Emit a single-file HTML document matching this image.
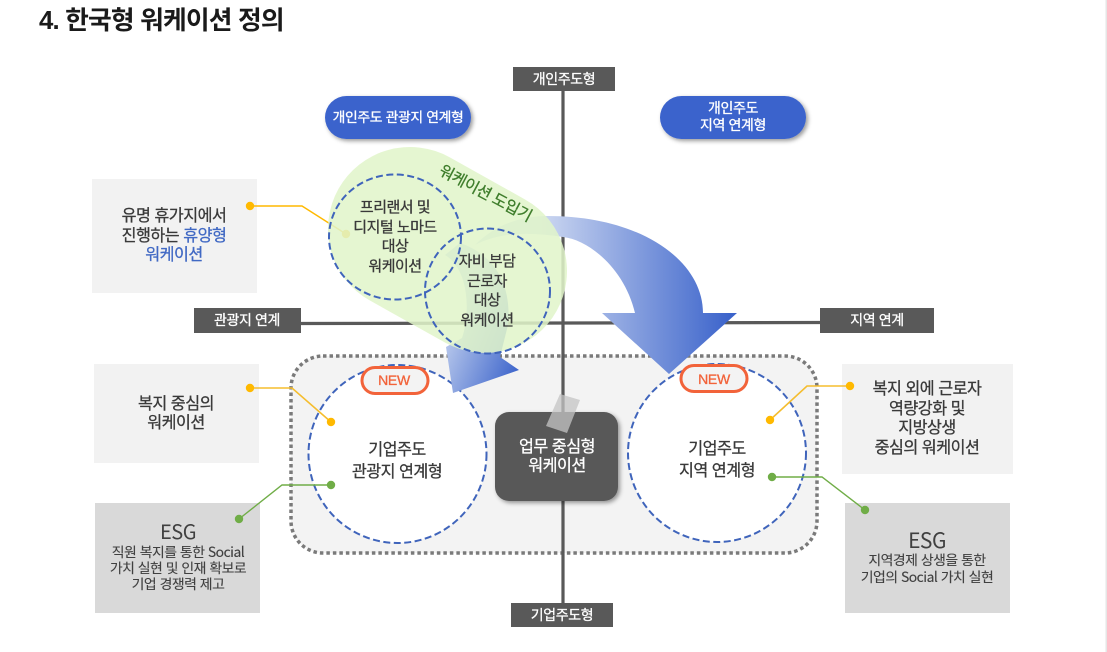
<!DOCTYPE html>
<html lang="ko"><head><meta charset="utf-8"><title>한국형 워케이션 정의</title>
<style>
html,body{margin:0;padding:0;background:#fff;width:1107px;height:652px;overflow:hidden}
svg{display:block}
text{font-family:"Liberation Sans","Noto Sans CJK KR",sans-serif;text-anchor:middle;fill:#3a3a3a;stroke:#3a3a3a;stroke-width:.3px;font-size:16.2px;font-weight:400;letter-spacing:-.5px}
.w{fill:#fff;stroke:#fff}
.s{font-size:14px;letter-spacing:-.4px}
.c{font-size:15px}
.b{fill:#4169c4;stroke:#4169c4}
.n{font-size:14px;fill:#f2633a;stroke:#f2633a;letter-spacing:-.3px}
.e{font-family:"Noto Sans CJK KR",sans-serif;fill:#404040;stroke:none}
.l{font-size:13.9px;stroke:#404040;stroke-width:.12px}
</style></head><body>
<svg width="1107" height="652" viewBox="0 0 1107 652" xmlns="http://www.w3.org/2000/svg">
<defs>
<linearGradient id="a1" gradientUnits="userSpaceOnUse" x1="540" y1="0" x2="730" y2="0"><stop offset="0" stop-color="#cdd8f1"/><stop offset="1" stop-color="#3c64cb"/></linearGradient>
<linearGradient id="a2" gradientUnits="userSpaceOnUse" x1="445" y1="340" x2="520" y2="370"><stop offset="0" stop-color="#b9c9ec"/><stop offset="1" stop-color="#3c64cb"/></linearGradient>
<filter id="sh" x="-20%" y="-20%" width="140%" height="150%"><feDropShadow dx="2" dy="2" stdDeviation="2" flood-color="#000" flood-opacity=".4"/></filter>
</defs>
<rect x="1105.5" y="0" width="1.5" height="652" fill="#e6e6e6"/>
<text x="39" y="29" style="text-anchor:start;font-size:25.8px;font-weight:700;fill:#1a1a1a;stroke:none;letter-spacing:-.85px">4. 한국형 워케이션 정의</text>

<!-- callout boxes -->
<rect x="92" y="179" width="165" height="114" fill="#f2f2f2"/>
<rect x="94" y="364" width="165" height="99" fill="#f2f2f2"/>
<rect x="95" y="503" width="165" height="110" fill="#d9d9d9"/>
<rect x="842" y="364" width="171" height="110" fill="#f2f2f2"/>
<rect x="845" y="503" width="165" height="110" fill="#d9d9d9"/>

<!-- dotted frame -->
<rect x="291" y="356" width="526" height="197" rx="32" fill="#f3f3f3" stroke="#7a7a7a" stroke-width="3.5" stroke-dasharray="3.5 3"/>

<!-- axes -->
<path d="M563 90V605" stroke="#595959" stroke-width="3.2" fill="none"/>
<path d="M300 323.5L820 322.5" stroke="#595959" stroke-width="3.2" fill="none"/>
<rect x="513" y="67" width="102" height="24" fill="#595959"/>
<rect x="511" y="603" width="102" height="24" fill="#595959"/>
<rect x="194" y="308" width="107" height="25" fill="#595959"/>
<rect x="820" y="308" width="114" height="25" fill="#595959"/>
<text class="w s" x="564" y="84">개인주도형</text>
<text class="w s" x="562" y="620">기업주도형</text>
<text class="w s" x="247" y="325">관광지 연계</text>
<text class="w s" x="877" y="325">지역 연계</text>

<!-- pills -->
<rect x="325" y="96" width="146" height="43" rx="21.5" fill="#3b63cc" filter="url(#sh)"/>
<rect x="660" y="96" width="146" height="43" rx="21.5" fill="#3b63cc" filter="url(#sh)"/>
<text class="w s" x="398" y="122" style="font-size:13.9px">개인주도 관광지 연계형</text>
<text class="w s" x="733" y="113">개인주도</text>
<text class="w s" x="733" y="130">지역 연계형</text>

<!-- large circles -->
<circle cx="397.5" cy="454" r="89" fill="#fff" stroke="#3f64bb" stroke-width="2" stroke-dasharray="7 3.5"/>
<circle cx="717" cy="453" r="89" fill="#fff" stroke="#3f64bb" stroke-width="2" stroke-dasharray="7 3.5"/>
<rect x="362" y="367.5" width="66" height="26" rx="13" fill="#f3f3f3" stroke="#f2633a" stroke-width="3"/>
<rect x="681" y="365.5" width="66" height="26" rx="13" fill="#f3f3f3" stroke="#f2633a" stroke-width="3"/>
<text class="n" x="394" y="385">NEW</text>
<text class="n" x="714" y="384">NEW</text>

<!-- centre box -->
<rect x="495" y="412" width="123" height="89" rx="14" fill="#595959" filter="url(#sh)"/>
<polygon points="560,394 580,400 567,433 546,426" fill="#c4c4c4" opacity=".75"/>
<text class="w" x="557" y="452">업무 중심형</text>
<text class="w" x="557" y="471">워케이션</text>
<text x="397" y="455">기업주도</text>
<text x="397" y="477">관광지 연계형</text>
<text x="717" y="454">기업주도</text>
<text x="717" y="476">지역 연계형</text>

<!-- connectors -->
<g fill="none" stroke-width="1.4">
<path d="M250 206H302L346 234" stroke="#ffb900"/>
<path d="M250 388H292L331 422" stroke="#f5bd2e" stroke-width="1.6"/>
<path d="M239 519L282 485H331" stroke="#70ad47"/>
<path d="M850 386H807L770 420" stroke="#f5bd2e" stroke-width="1.6"/>
<path d="M772 477H822L865 510" stroke="#70ad47"/>
</g>
<g fill="#ffb900">
<circle cx="250" cy="206" r="4.2"/><circle cx="346" cy="234" r="4.2"/><circle cx="250" cy="388" r="4.2"/><circle cx="331" cy="422" r="4.2"/><circle cx="850" cy="386" r="4.2"/><circle cx="770" cy="420" r="4.2"/>
</g>
<g fill="#70ad47">
<circle cx="239" cy="519" r="4.2"/><circle cx="331" cy="485" r="4.2"/><circle cx="772" cy="477" r="4.2"/><circle cx="865" cy="510" r="4.2"/>
</g>

<!-- arrows -->
<path d="M475 245C495 225 520 216 548 216C640 216 703 260 703 313H737L669 374L602 313H635C625 270 590 240 563 237C530 232 500 232 475 245Z" fill="url(#a1)"/>
<path d="M460 243C495 255 512 285 508 325L500 357L519 370L453 393L446 347L462 338C470 315 470 270 445 255Z" fill="url(#a2)"/>

<!-- capsule -->
<path d="M410 229L485 271" stroke="#e1f4c9" stroke-width="164" stroke-linecap="round" opacity=".86" fill="none"/>
<ellipse cx="395" cy="237" rx="66" ry="62.5" fill="none" stroke="#3f64bb" stroke-width="2" stroke-dasharray="7 3.5"/>
<circle cx="487.5" cy="291" r="62.5" fill="none" stroke="#3f64bb" stroke-width="2" stroke-dasharray="7 3.5"/>
<text transform="translate(483 198) rotate(28)" style="font-size:15.8px;fill:#3e7d2b;stroke:#3e7d2b">워케이션 도입기</text>
<text class="c" x="395" y="212">프리랜서 및</text>
<text class="c" x="395" y="232">디지털 노마드</text>
<text class="c" x="395" y="251">대상</text>
<text class="c" x="395" y="271">워케이션</text>
<text class="c" x="487" y="266">자비 부담</text>
<text class="c" x="487" y="286">근로자</text>
<text class="c" x="487" y="305">대상</text>
<text class="c" x="487" y="325">워케이션</text>

<!-- callout text -->
<text x="174" y="221">유명 휴가지에서</text>
<text x="174" y="241">진행하는 <tspan class="b">휴양형</tspan></text>
<text class="b" x="174" y="260">워케이션</text>
<text x="176" y="409">복지 중심의</text>
<text x="176" y="428">워케이션</text>
<text class="e" x="178" y="539" style="font-size:20px">ESG</text>
<text class="e l" x="178" y="557">직원 복지를 통한 Social</text>
<text class="e l" x="178" y="573">가치 실현 및 인재 확보로</text>
<text class="e l" x="178" y="589">기업 경쟁력 제고</text>
<text x="927" y="394">복지 외에 근로자</text>
<text x="927" y="414">역량강화 및</text>
<text x="927" y="433">지방상생</text>
<text x="927" y="453">중심의 워케이션</text>
<text class="e" x="927" y="548" style="font-size:21px">ESG</text>
<text class="e l" x="927" y="565">지역경제 상생을 통한</text>
<text class="e l" x="927" y="582">기업의 Social 가치 실현</text>
</svg>
</body></html>
